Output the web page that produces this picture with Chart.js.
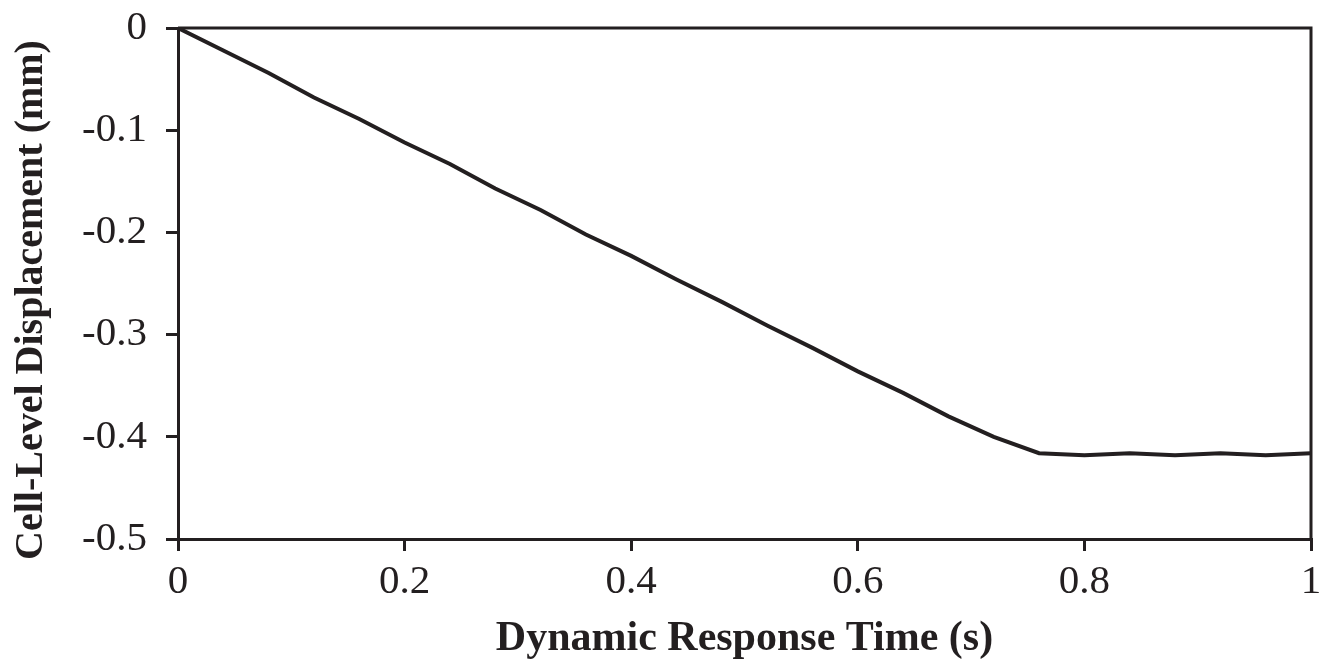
<!DOCTYPE html>
<html>
<head>
<meta charset="utf-8">
<script src="https://cdn.jsdelivr.net/npm/chart.js@4"></script>
<style>
  html, body { margin: 0; padding: 0; background: #fff; }
  #wrap { width: 1333px; height: 672px; }
</style>
</head>
<body>
<div id="wrap"><canvas id="dispChart" width="1333" height="672"></canvas></div>
<script>
// time (s) and cell-level displacement (mm)
const times = [0, 0.04, 0.08, 0.12, 0.16, 0.20, 0.24, 0.28, 0.32, 0.36, 0.40, 0.44, 0.48,
               0.52, 0.56, 0.60, 0.64, 0.68, 0.72, 0.76, 0.80, 0.84, 0.88, 0.92, 0.96, 1.00];
const displacement = [0, -0.022, -0.044, -0.068, -0.089, -0.112, -0.133, -0.157, -0.178, -0.202,
                      -0.223, -0.246, -0.268, -0.291, -0.313, -0.336, -0.357, -0.380, -0.400,
                      -0.416, -0.418, -0.416, -0.418, -0.416, -0.418, -0.416];

const xTicks = [0, 0.2, 0.4, 0.6, 0.8, 1];
const xTickLabels = ["0", "0.2", "0.4", "0.6", "0.8", "1"];
const yTicks = [0, -0.1, -0.2, -0.3, -0.4, -0.5];
const yTickLabels = ["0", "-0.1", "-0.2", "-0.3", "-0.4", "-0.5"];

const xTitle = "Dynamic Response Time (s)";
const yTitle = "Cell-Level Displacement (mm)";

const ink = "#231f20";
const tickFont = { family: "'Liberation Serif', 'Times New Roman', serif", size: 41 };
const titleFont = { family: "'Liberation Serif', 'Times New Roman', serif", size: 42, weight: "bold" };

function labelFor(ticks, labels, v) {
  const i = ticks.findIndex(t => Math.abs(t - v) < 1e-9);
  return i >= 0 ? labels[i] : "";
}

// frame on top/right plus rotated y title
const framePlugin = {
  id: "frame",
  afterDraw(chart) {
    const { ctx, chartArea: a } = chart;
    ctx.save();
    ctx.strokeStyle = ink;
    ctx.lineWidth = 3;
    ctx.beginPath();
    ctx.moveTo(a.left, a.top);
    ctx.lineTo(a.right, a.top);
    ctx.lineTo(a.right, a.bottom);
    ctx.stroke();

    ctx.translate(42, 300);
    ctx.rotate(-Math.PI / 2);
    ctx.fillStyle = ink;
    ctx.font = "bold 40px 'Liberation Serif', 'Times New Roman', serif";
    ctx.textAlign = "center";
    ctx.textBaseline = "alphabetic";
    ctx.fillText(yTitle, 0, 0);
    ctx.restore();
  }
};

const ctx = document.getElementById("dispChart").getContext("2d");
new Chart(ctx, {
  type: "line",
  data: {
    datasets: [{
      data: times.map((t, i) => ({ x: t, y: displacement[i] })),
      borderColor: ink,
      borderWidth: 4,
      pointRadius: 0,
      fill: false,
      tension: 0
    }]
  },
  options: {
    responsive: false,
    animation: false,
    devicePixelRatio: 1,
    layout: { padding: { top: 28, right: 22, left: 0, bottom: 0 } },
    plugins: { legend: { display: false }, tooltip: { enabled: false } },
    scales: {
      x: {
        type: "linear",
        min: 0,
        max: 1,
        afterBuildTicks: s => { s.ticks = xTicks.map(v => ({ value: v })); },
        afterFit: s => { s.height = 133; s.paddingLeft = 0; s.paddingRight = 0; },
        ticks: {
          color: ink,
          font: tickFont,
          padding: 7,
          maxRotation: 0,
          callback: v => labelFor(xTicks, xTickLabels, v)
        },
        grid: { drawOnChartArea: false, drawTicks: true, tickLength: 12, color: ink, lineWidth: 3 },
        border: { display: true, color: ink, width: 3 },
        title: { display: true, text: xTitle, color: ink, font: titleFont, padding: { top: 0, bottom: 8 } }
      },
      y: {
        type: "linear",
        min: -0.5,
        max: 0,
        afterBuildTicks: s => { s.ticks = yTicks.map(v => ({ value: v })); },
        afterFit: s => { s.width = 178; s.paddingTop = 0; s.paddingBottom = 0; },
        ticks: {
          color: ink,
          font: tickFont,
          padding: 19,
          callback: v => labelFor(yTicks, yTickLabels, v)
        },
        grid: { drawOnChartArea: false, drawTicks: true, tickLength: 12, color: ink, lineWidth: 3 },
        border: { display: true, color: ink, width: 3 }
      }
    }
  },
  plugins: [framePlugin]
});
</script>
</body>
</html>
